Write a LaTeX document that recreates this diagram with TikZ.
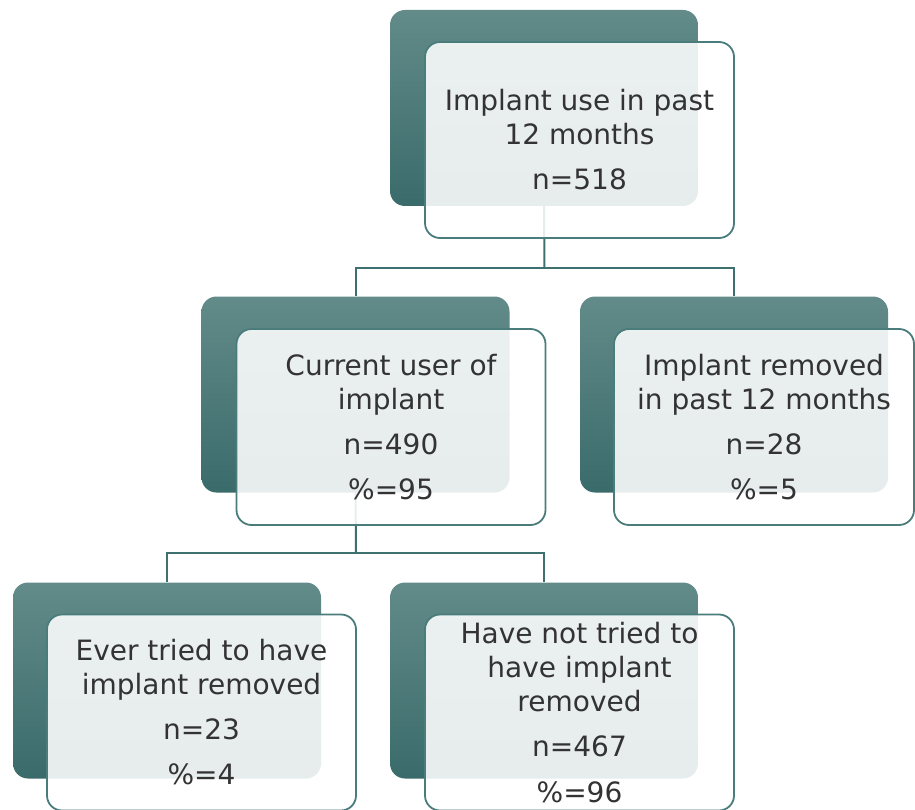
\documentclass[tikz,border=0pt]{standalone}
\usepackage{fontspec}
\setmainfont{DejaVu Sans}
\definecolor{ctop}{HTML}{628B89}
\definecolor{cbot}{HTML}{3A6B6B}
\definecolor{cline}{HTML}{3F7070}
\definecolor{cedge}{HTML}{4A7C7C}
\definecolor{ctext}{HTML}{333333}
\tikzset{
  darkbox/.style={rounded corners=15pt, minimum width=308pt, minimum height=196pt,
    inner sep=0pt, top color=ctop, bottom color=cbot, draw=none},
  lightbox/.style={rounded corners=15pt, minimum width=309pt, minimum height=196pt,
    inner sep=0pt, draw=cedge, line width=1.8pt, fill=white, fill opacity=0.88,
    draw opacity=1, text opacity=1, text=ctext, align=center,
    font=\fontsize{28pt}{34pt}\selectfont},
  conn/.style={draw=cline, line width=2pt}
}
\begin{document}
\begin{tikzpicture}[x=1pt,y=-1pt]
\useasboundingbox (0,0) rectangle (915,810);
\coordinate (j1) at (544.5,268);
\coordinate (j2) at (356,553);
% dark boxes
\node[darkbox] (d1) at (544,108) {};
\node[darkbox] (d2) at (355.5,394.5) {};
\node[darkbox] (d3) at (734,394.5) {};
\node[darkbox] (d4) at (167,680.5) {};
\node[darkbox] (d5) at (544,680.5) {};
% connectors
\draw[conn] (d1.south) -- (j1);
\draw[conn] (j1) -| (d2.north);
\draw[conn] (j1) -| (d3.north);
\draw[conn] (d2.south) -- (j2);
\draw[conn] (j2) -| (d4.north);
\draw[conn] (j2) -| (d5.north);
% light boxes
\node[lightbox] (l1) at (579.5,140) {Implant use in past\\12 months\\[11pt]n=518};
\node[lightbox] (l2) at (391,427) {Current user of\\implant\\[11pt]n=490\\[11pt]\%=95};
\node[lightbox, minimum width=300pt] (l3) at (764,427) {Implant removed\\in past 12 months\\[11pt]n=28\\[11pt]\%=5};
\node[lightbox] (l4) at (201.5,712.5) {Ever tried to have\\implant removed\\[11pt]n=23\\[11pt]\%=4};
\node[lightbox] (l5) at (579.5,712.5) {Have not tried to\\have implant\\removed\\[11pt]n=467\\[12pt]\%=96};
\end{tikzpicture}
\end{document}
